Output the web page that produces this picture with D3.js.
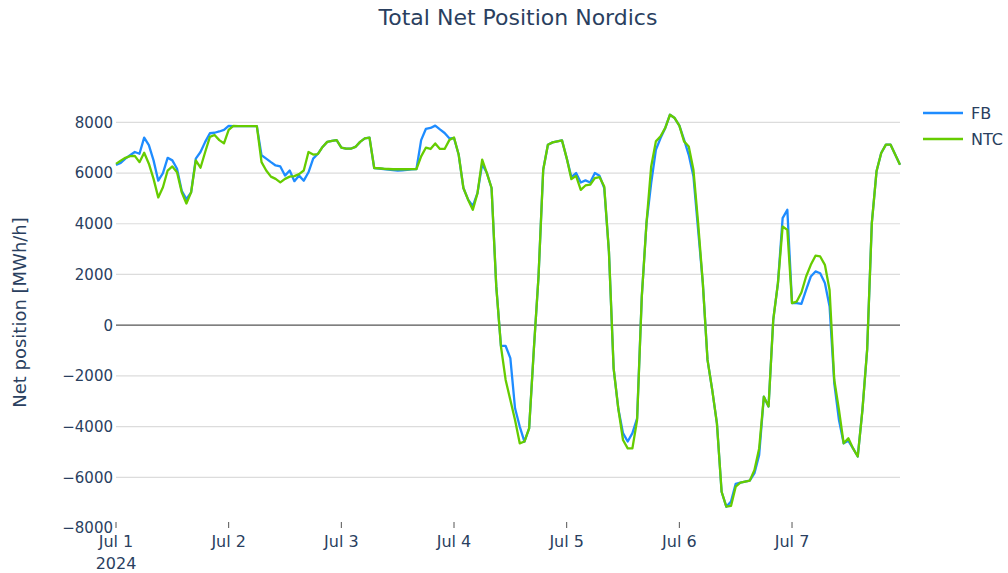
<!DOCTYPE html>
<html>
<head>
<meta charset="utf-8">
<script src="https://cdn.jsdelivr.net/npm/d3@7"></script>
<style>
  body { margin: 0; background: #fff; }
  svg { display: block; font-family: "DejaVu Sans", Verdana, sans-serif; }
</style>
</head>
<body>
<svg id="chart" width="1008" height="573"></svg>
<script>
// datos horarios, 1 jul 00:00 -> 7 jul 23:00
var startDate = new Date(2024, 6, 1, 0, 0);
var seriesNames = ["FB", "NTC"];
var seriesColors = ["#1e8cff", "#66cc00"];
var yTicks = [8000, 6000, 4000, 2000, 0, -2000, -4000, -6000, -8000];
var xTickLabels = ["Jul 1", "Jul 2", "Jul 3", "Jul 4", "Jul 5", "Jul 6", "Jul 7"];

var fbValues = [
  6320, 6400, 6570, 6700, 6830, 6760, 7400, 7100, 6500, 5700, 6000, 6600,
  6500, 6170, 5300, 4970, 5240, 6570, 6830, 7230, 7570, 7590, 7640, 7700,
  7860, 7850, 7850, 7850, 7850, 7850, 7850, 6700, 6570, 6430, 6300, 6260,
  5900, 6100, 5680, 5900, 5700, 6030, 6570, 6760, 7030, 7230, 7270, 7300,
  7000, 6960, 6960, 7030, 7230, 7370, 7400, 6200, 6180, 6160, 6140, 6120,
  6100, 6110, 6130, 6150, 6160, 7300, 7740, 7780, 7870, 7720, 7580, 7370,
  7380, 6720, 5410, 4950, 4700, 5210, 6350, 6000, 5410, 1530, -820, -820,
  -1300, -3280, -4000, -4590, -4070, -970, 1920, 6130, 7120, 7210, 7250, 7290,
  6590, 5840, 6000, 5630, 5710, 5630, 6000, 5890, 5410, 2900, -1700, -3300,
  -4260, -4590, -4260, -3670, 1130, 4030, 5600, 6920, 7380, 7780, 8300, 8170,
  7870, 7320, 6720, 5870, 3760, 1660, -1370, -2550, -3870, -6570, -7160, -6960,
  -6260, -6210, -6170, -6130, -5840, -5120, -2820, -3210, 210, 1660, 4220, 4550,
  870, 870, 840, 1390, 1920, 2120, 2050, 1660, 740, -2290, -3740, -4660,
  -4560, -4860, -5180, -3340, -970, 4030, 6070, 6790, 7120, 7120, 6720, 6330
];

var ntcValues = [
  6360, 6490, 6600, 6670, 6680, 6430, 6800, 6370, 5770, 5040, 5440, 6100,
  6260, 6030, 5240, 4800, 5240, 6500, 6210, 6830, 7430, 7500, 7300, 7170,
  7700, 7860, 7850, 7850, 7850, 7850, 7850, 6430, 6100, 5860, 5770, 5630,
  5770, 5860, 5880, 5960, 6100, 6830, 6730, 6750, 7030, 7230, 7270, 7300,
  7000, 6960, 6960, 7030, 7230, 7370, 7400, 6200, 6190, 6170, 6160, 6150,
  6150, 6150, 6150, 6155, 6160, 6660, 7000, 6950, 7170, 6950, 6950, 7300,
  7400, 6720, 5410, 4950, 4550, 5210, 6530, 6000, 5410, 1530, -840, -2160,
  -2950, -3740, -4660, -4590, -4070, -970, 1920, 6130, 7120, 7210, 7250, 7290,
  6590, 5760, 5890, 5340, 5510, 5540, 5800, 5840, 5470, 2900, -1700, -3300,
  -4530, -4860, -4860, -3740, 1130, 4030, 6260, 7250, 7450, 7780, 8300, 8170,
  7870, 7250, 7050, 6130, 4030, 1660, -1370, -2550, -3870, -6570, -7160, -7130,
  -6370, -6210, -6170, -6130, -5710, -4860, -2820, -3210, 210, 1660, 3890, 3760,
  870, 930, 1290, 1920, 2380, 2740, 2710, 2380, 1390, -2160, -3340, -4660,
  -4460, -4860, -5180, -3340, -970, 4030, 6070, 6790, 7120, 7120, 6720, 6330
];

var svg = d3.select("#chart");
var textColor = "#2a3f5f";
var plotLeft = 116, plotRight = 900, plotTop = 97, plotBottom = 528;

var hours = fbValues.map(function(d, i) { return d3.timeHour.offset(startDate, i); });

var x = d3.scaleTime()
  .domain([hours[0], hours[hours.length - 1]])
  .range([plotLeft, plotRight]);
var y = d3.scaleLinear()
  .domain([-8000, 9000])
  .range([plotBottom, plotTop]);

// grid
svg.append("g").selectAll("line")
  .data(yTicks.filter(function(t) { return t !== 0 && t !== -8000; }))
  .enter().append("line")
  .attr("x1", plotLeft).attr("x2", plotRight)
  .attr("y1", function(d) { return y(d); })
  .attr("y2", function(d) { return y(d); })
  .attr("stroke", "#dcdcdc")
  .attr("stroke-width", 1.2);

svg.append("line")
  .attr("x1", plotLeft).attr("x2", plotRight)
  .attr("y1", y(0)).attr("y2", y(0))
  .attr("stroke", "#555")
  .attr("stroke-width", 1.2);

// eje y
svg.append("g").selectAll("text")
  .data(yTicks)
  .enter().append("text")
  .attr("x", plotLeft - 3)
  .attr("y", function(d) { return y(d); })
  .attr("dy", "0.36em")
  .attr("text-anchor", "end")
  .attr("fill", textColor)
  .style("font-size", "15px")
  .text(function(d) { return d < 0 ? "\u2212" + Math.abs(d) : d; });

// eje x
var dayTicks = d3.timeDay.range(startDate, d3.timeDay.offset(startDate, 7));
var xg = svg.append("g").selectAll("g")
  .data(dayTicks)
  .enter().append("g")
  .attr("transform", function(d) { return "translate(" + x(d) + ",0)"; });
xg.append("line")
  .attr("y1", plotBottom - 6).attr("y2", plotBottom)
  .attr("stroke", "#555");
xg.append("text")
  .attr("y", plotBottom + 19)
  .attr("text-anchor", "middle")
  .attr("fill", textColor)
  .style("font-size", "16px")
  .text(function(d, i) { return xTickLabels[i]; });
xg.filter(function(d, i) { return i === 0; })
  .append("text")
  .attr("y", plotBottom + 41)
  .attr("text-anchor", "middle")
  .attr("fill", textColor)
  .style("font-size", "16px")
  .text("2024");

// lineas
var lineGenerator = d3.line()
  .x(function(d, i) { return x(hours[i]); })
  .y(function(d) { return y(d); });

[fbValues, ntcValues].forEach(function(vals, k) {
  svg.append("path")
    .attr("d", lineGenerator(vals))
    .attr("fill", "none")
    .attr("stroke", seriesColors[k])
    .attr("stroke-width", 2.3)
    .attr("stroke-linejoin", "round");
});

// leyenda
var legend = svg.append("g").selectAll("g")
  .data(seriesNames)
  .enter().append("g")
  .attr("transform", function(d, i) { return "translate(923," + (113 + i * 26) + ")"; });
legend.append("line")
  .attr("x1", 0).attr("x2", 40)
  .attr("stroke", function(d, i) { return seriesColors[i]; })
  .attr("stroke-width", 2.3);
legend.append("text")
  .attr("x", 48)
  .attr("dy", "0.36em")
  .attr("fill", textColor)
  .style("font-size", "16px")
  .text(function(d) { return d; });

// titulos
svg.append("text")
  .attr("x", 518).attr("y", 25)
  .attr("text-anchor", "middle")
  .attr("fill", textColor)
  .style("font-size", "22px")
  .text("Total Net Position Nordics");

svg.append("text")
  .attr("transform", "translate(26," + ((plotTop + plotBottom) / 2) + ") rotate(-90)")
  .attr("text-anchor", "middle")
  .attr("fill", textColor)
  .style("font-size", "18px")
  .text("Net position [MWh/h]");
</script>
</body>
</html>
